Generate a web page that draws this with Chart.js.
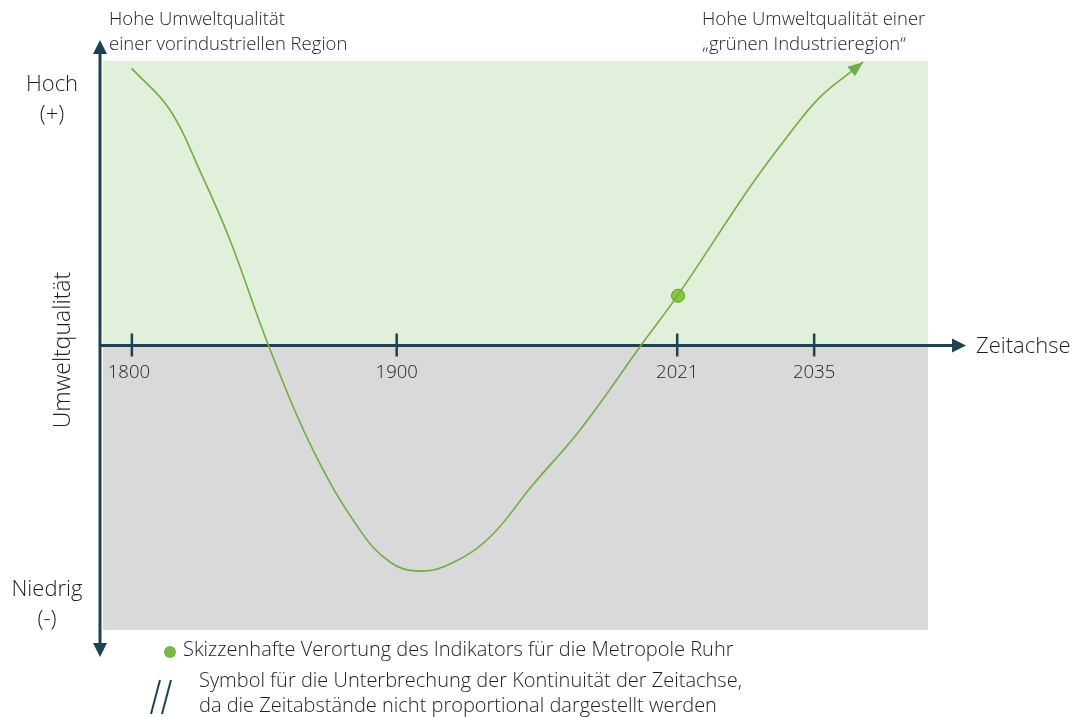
<!DOCTYPE html>
<html>
<head>
<meta charset="utf-8">
<script src="https://cdn.jsdelivr.net/npm/chart.js@4"></script>
<style>
  body { margin: 0; background: #fff; }
  #wrap { width: 1074px; height: 717px; position: relative; }
</style>
</head>
<body>
<div id="wrap"><canvas id="chart" width="1074" height="717"></canvas></div>
<script>
// position along the (non proportional) time axis, 0..100
let kurveX = [3.48, 8.12, 11.76, 15.39, 20.06, 25.45, 31.15, 34.79, 38.18, 42.06, 46.91, 51.88,
              57.82, 65.2, 69.7, 78.42, 82.91, 86.91, 90.91, 92.12];
// Umweltqualität, -1 (niedrig) .. +1 (hoch)
let kurveY = [0.974, 0.828, 0.613, 0.371, 0.0, -0.367, -0.649, -0.761, -0.793, -0.768, -0.673, -0.497,
              -0.297, 0.0, 0.178, 0.557, 0.733, 0.873, 0.968, 0.996];

let tickPos = [3.5, 35.6, 69.6, 86.2];
let tickLabels = ['1800', '1900', '2021', '2035'];

let indikatorX = [69.7];
let indikatorY = [0.175];

const dunkel = '#1d4352';
const gruen = '#70ad47';
const fontName = '"Open Sans", "Noto Sans", sans-serif';

function pfeil(ctx, x, y, ang, len, breite, farbe) {
    ctx.save();
    ctx.translate(x, y);
    ctx.rotate(ang);
    ctx.fillStyle = farbe;
    ctx.beginPath();
    ctx.moveTo(0, 0);
    ctx.lineTo(-len, -breite / 2);
    ctx.lineTo(-len, breite / 2);
    ctx.closePath();
    ctx.fill();
    ctx.restore();
}

function text(ctx, t, x, y, size, align) {
    ctx.font = '300 ' + size + 'px ' + fontName;
    ctx.textAlign = align || 'left';
    ctx.fillText(t, x, y);
}

const hintergrund = {
    id: 'hintergrund',
    beforeDatasetsDraw(chart) {
        let ctx = chart.ctx;
        let a = chart.chartArea;
        let y0 = chart.scales.y.getPixelForValue(0);
        ctx.save();
        ctx.fillStyle = '#e2efda';
        ctx.fillRect(a.left, a.top, a.right - a.left, y0 - a.top);
        ctx.fillStyle = '#d9d9d9';
        ctx.fillRect(a.left, y0, a.right - a.left, a.bottom - y0);

        // axes
        let ax = a.left - 3;
        ctx.strokeStyle = dunkel;
        ctx.lineWidth = 3;
        ctx.beginPath();
        ctx.moveTo(ax, 52);
        ctx.lineTo(ax, 645);
        ctx.moveTo(ax, y0);
        ctx.lineTo(955, y0);
        ctx.stroke();
        pfeil(ctx, ax, 40, -Math.PI / 2, 14, 14, dunkel);
        pfeil(ctx, ax, 657, Math.PI / 2, 14, 14, dunkel);
        pfeil(ctx, 966, y0, 0, 14, 14, dunkel);

        // ticks + labels
        ctx.fillStyle = '#1e1e1e';
        ctx.textBaseline = 'middle';
        ctx.lineWidth = 2.5;
        for (let i = 0; i < tickPos.length; i++) {
            let px = chart.scales.x.getPixelForValue(tickPos[i]);
            ctx.beginPath();
            ctx.moveTo(px, y0 - 12);
            ctx.lineTo(px, y0 + 11);
            ctx.stroke();
            text(ctx, tickLabels[i], i == 0 ? px - 3 : px, y0 + 27, 18.5, 'center');
        }
        ctx.restore();
    },
    afterDatasetsDraw(chart) {
        let ctx = chart.ctx;
        let pts = chart.getDatasetMeta(0).data;
        let p1 = pts[pts.length - 2], p2 = pts[pts.length - 1];
        ctx.save();
        pfeil(ctx, p2.x, p2.y, Math.atan2(p2.y - p1.y, p2.x - p1.x), 15, 12, gruen);

        ctx.fillStyle = '#1e1e1e';
        ctx.textBaseline = 'middle';
        text(ctx, 'Hohe Umweltqualität', 109, 20, 18.5);
        text(ctx, 'einer vorindustriellen Region', 109, 45, 18.5);
        text(ctx, 'Hohe Umweltqualität einer', 702, 20, 18.5);
        text(ctx, '\u201Egrünen Industrieregion\u201C', 702, 45, 18.5);
        text(ctx, 'Hoch', 52, 85, 22, 'center');
        text(ctx, '(+)', 52, 115, 22, 'center');
        text(ctx, 'Niedrig', 47, 590, 22, 'center');
        text(ctx, '(-)', 47, 620, 22, 'center');
        text(ctx, 'Zeitachse', 976, 347, 22);

        ctx.save();
        ctx.translate(63, 350);
        ctx.rotate(-Math.PI / 2);
        text(ctx, 'Umweltqualität', 0, 0, 23, 'center');
        ctx.restore();

        // legend
        ctx.fillStyle = '#7ab648';
        ctx.beginPath();
        ctx.arc(170, 652, 6, 0, Math.PI * 2);
        ctx.fill();
        ctx.fillStyle = '#1e1e1e';
        text(ctx, 'Skizzenhafte Verortung des Indikators für die Metropole Ruhr', 183, 650, 20);
        text(ctx, 'Symbol für die Unterbrechung der Kontinuität der Zeitachse,', 199, 681, 20);
        text(ctx, 'da die Zeitabstände nicht proportional dargestellt werden', 199, 706, 20);
        ctx.strokeStyle = dunkel;
        ctx.lineWidth = 2;
        ctx.beginPath();
        ctx.moveTo(160, 680); ctx.lineTo(151, 714);
        ctx.moveTo(171, 680); ctx.lineTo(162, 714);
        ctx.stroke();
        ctx.restore();
    }
};

let config = {
    type: 'scatter',
    data: {
        datasets: [{
            data: kurveX.map((x, i) => ({ x: x, y: kurveY[i] })),
            showLine: true,
            borderColor: gruen,
            borderWidth: 1.6,
            pointRadius: 0,
            tension: 0.4,
            clip: false
        }, {
            data: indikatorX.map((x, i) => ({ x: x, y: indikatorY[i] })),
            pointRadius: 6.5,
            pointBackgroundColor: '#8cc63f',
            pointBorderColor: '#5a9a2a',
            pointBorderWidth: 1,
            clip: false
        }]
    },
    options: {
        responsive: false,
        animation: false,
        layout: { padding: { left: 103, right: 146, top: 61, bottom: 87 } },
        plugins: { legend: { display: false }, tooltip: { enabled: false } },
        scales: {
            x: { type: 'linear', min: 0, max: 100, display: false },
            y: { type: 'linear', min: -1, max: 1, display: false }
        }
    },
    plugins: [hintergrund]
};

new Chart(document.getElementById('chart').getContext('2d'), config);
</script>
</body>
</html>
